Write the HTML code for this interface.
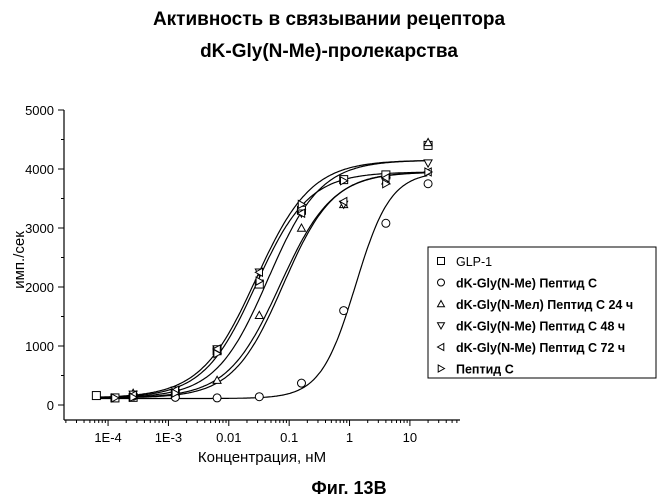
<!DOCTYPE html>
<html><head><meta charset="utf-8"><style>
body{margin:0;background:#fff;}
svg{display:block;font-family:"Liberation Sans",sans-serif;}
</style></head><body>
<svg id="c" width="659" height="500" viewBox="0 0 659 500">
<text x="329" y="25" text-anchor="middle" font-size="19" font-weight="bold">Активность в связывании рецептора</text>
<text x="329" y="57" text-anchor="middle" font-size="19" font-weight="bold">dK-Gly(N-Me)-пролекарства</text>
<text x="349" y="494" text-anchor="middle" font-size="18" font-weight="bold">Фиг. 13В</text>
<text x="262" y="462" text-anchor="middle" font-size="15">Концентрация, нМ</text>
<text transform="translate(24,260) rotate(-90)" text-anchor="middle" font-size="15">имп./сек</text>
<g id="axes"></g><g id="curves"></g><g id="points"></g>
<g>
<rect x="428" y="247" width="228" height="131" fill="#fff" stroke="#000" stroke-width="1"/>
<g id="legend"></g>
</g>
</svg>
<script>
const conc=[6.4e-5,1.3e-4,2.6e-4,1.3e-3,6.4e-3,0.032,0.16,0.8,4,20];
const glp1=[160,120,130,200,920,2050,3300,3820,3900,4400];
const pepCmod=[null,null,150,130,120,140,370,1600,3080,3750];
const h24=[null,null,200,230,420,1520,3000,3400,3800,4450];
const h48=[null,null,180,250,950,2250,3250,3400,3800,4100];
const h72=[null,null,170,250,950,2250,3250,3450,3850,3950];
const pepC=[null,120,130,200,870,2100,3400,3800,3750,3950];
const fitGlp1=[120,4150,-1.35,1.0];
const fitPepCmod=[110,3950,0.1,1.5];
const fitH24=[120,3950,-1.1,1.05];
const fitH48=[120,4150,-1.55,0.95];
const fitH72=[120,3950,-1.55,1.0];
const fitPepC=[120,3950,-1.15,1.0];
const yTicks=[0,1000,2000,3000,4000,5000];
const xTickLabels=["1E-4","1E-3","0.01","0.1","1","10"];
const xTickVals=[-4,-3,-2,-1,0,1];
const labels=["GLP-1","dK-Gly(N-Me) Пептид С","dK-Gly(N-Meл) Пептид С 24 ч","dK-Gly(N-Me) Пептид С 48 ч","dK-Gly(N-Me) Пептид С 72 ч","Пептид С"];

const NS="http://www.w3.org/2000/svg";
const X0=64,X1=460,Y0=110,Y1=420;
const lx0=-4.73,lx1=1.83;
const xs=v=>X0+(Math.log10(v)-lx0)/(lx1-lx0)*(X1-X0);
const xl=l=>X0+(l-lx0)/(lx1-lx0)*(X1-X0);
const ys=v=>405-v*(295/5000);
function el(t,a,p){const e=document.createElementNS(NS,t);for(const k in a)e.setAttribute(k,a[k]);p.appendChild(e);return e;}
const axes=document.getElementById('axes');
let e=el('line',{x1:X0,y1:Y0,x2:X0,y2:Y1,stroke:'#000','stroke-width':1.2},axes);


e=el('line',{x1:X0,y1:Y1,x2:X1,y2:Y1,stroke:'#000','stroke-width':1.2},axes);


for(let v=0;v<=5000;v+=500){const y=ys(v);el('line',{x1:X0-(v%1000?3:6),y1:y,x2:X0,y2:y,stroke:'#000'},axes);}
yTicks.forEach(v=>{const t=el('text',{x:X0-10,y:ys(v)+5,'text-anchor':'end','font-size':13},axes);t.textContent=v;

});
for(let d=-5;d<=1;d++)for(let m=1;m<10;m++){const l=d+Math.log10(m);if(l<lx0||l>lx1)continue;el('line',{x1:xl(l),y1:Y1,x2:xl(l),y2:Y1+(m==1?6:3),stroke:'#000'},axes);}
xTickVals.forEach((l,i)=>{const t=el('text',{x:xl(l),y:Y1+22,'text-anchor':'middle','font-size':13},axes);t.textContent=xTickLabels[i];

});
const series=[[glp1,fitGlp1,'sq'],[pepCmod,fitPepCmod,'ci'],[h24,fitH24,'up'],[h48,fitH48,'dn'],[h72,fitH72,'lt'],[pepC,fitPepC,'rt']];
const names=['glp1','dk-gly-peptide-c','dk-gly-24h','dk-gly-48h','dk-gly-72h','peptide-c'];
function marker(k,x,y,g,s){s=s||4;
 if(k=='sq')return el('rect',{x:x-s,y:y-s,width:2*s,height:2*s,fill:'#fff',stroke:'#000'},g);
 if(k=='ci')return el('circle',{cx:x,cy:y,r:s,fill:'#fff',stroke:'#000'},g);
 let p;if(k=='up')p=[[x,y-s],[x-s,y+s*.8],[x+s,y+s*.8]];
 if(k=='dn')p=[[x,y+s],[x-s,y-s*.8],[x+s,y-s*.8]];
 if(k=='lt')p=[[x-s,y],[x+s*.8,y-s],[x+s*.8,y+s]];
 if(k=='rt')p=[[x+s,y],[x-s*.8,y-s],[x-s*.8,y+s]];
 return el('polygon',{points:p.map(q=>q.join(',')).join(' '),fill:'#fff',stroke:'#000'},g);}
const cg=document.getElementById('curves'),pg=document.getElementById('points');
series.forEach(([vals,f,k],i)=>{
 let d='';for(let l=-4.15;l<=1.3;l+=0.02){const v=f[0]+(f[1]-f[0])/(1+Math.pow(10,(f[2]-l)*f[3]));d+=(d?'L':'M')+xl(l).toFixed(1)+','+ys(v).toFixed(1);}
 const p=el('path',{d:d,fill:'none',stroke:'#000','stroke-width':1.2},cg);
 
 
 vals.forEach((v,j)=>{if(v==null)return;const m=marker(k,xs(conc[j]),ys(v),pg);
 
 });
});
const lg=document.getElementById('legend');
labels.forEach((t,i)=>{const y=265+i*21.5;marker(series[i][2],441,y-4,lg,3.5);
 const tx=el('text',{x:456,y:y+1,'font-size':12.5,'font-weight':i?'bold':'normal'},lg);tx.textContent=t;
 
 });
</script>
</body></html>
